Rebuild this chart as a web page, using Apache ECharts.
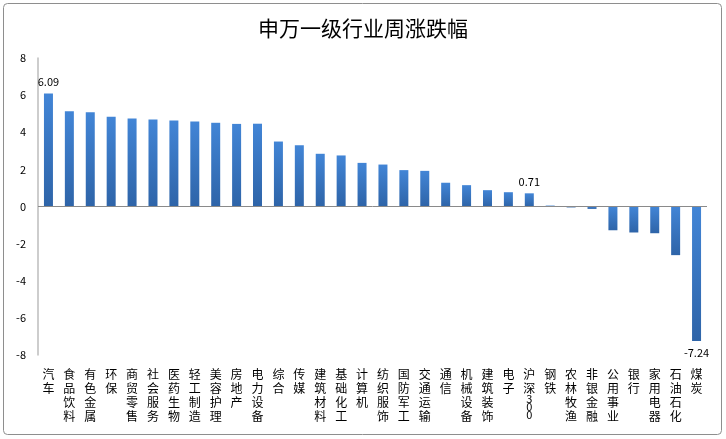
<!DOCTYPE html>
<html>
<head>
<meta charset="utf-8">
<script src="https://cdn.jsdelivr.net/npm/echarts@6/dist/echarts.min.js"></script>
<style>
html,body{margin:0;padding:0;background:#fff;}
#c{width:726px;height:439px;}
</style>
</head>
<body>
<div id="c"></div>
<script>
var categories = ['汽车','食品饮料','有色金属','环保','商贸零售','社会服务','医药生物','轻工制造','美容护理','房地产','电力设备','综合','传媒','建筑材料','基础化工','计算机','纺织服饰','国防军工','交通运输','通信','机械设备','建筑装饰','电子','沪深300','钢铁','农林牧渔','非银金融','公用事业','银行','家用电器','石油石化','煤炭'];
var values = [6.09,5.13,5.08,4.83,4.74,4.69,4.63,4.58,4.51,4.45,4.46,3.50,3.30,2.84,2.75,2.35,2.26,1.96,1.92,1.28,1.15,0.88,0.77,0.71,0.05,-0.05,-0.13,-1.28,-1.40,-1.44,-2.62,-7.24];
var labeledIdx = [0, 23, 31];
var yTicks = [-8,-6,-4,-2,0,2,4,6,8];

var chart = echarts.init(document.getElementById('c'), null, {renderer:'canvas'});
var font = '"Noto Sans CJK SC", "Microsoft YaHei", sans-serif';

function vertLabel(s){
  var m = s.match(/^(\D*)(\d+)$/);
  if(m){
    var parts = m[1].split('');
    var digits = m[2].split('').map(function(d){return '{d|'+d+'}';});
    return parts.join('\n') + '\n' + digits.join('\n');
  }
  return s.split('').join('\n');
}

var data = values.map(function(v,i){
  var item = {value:v};
  if(labeledIdx.indexOf(i) >= 0){
    item.label = {show:true, position: v>=0 ? 'top':'bottom', formatter: function(p){return p.value.toFixed(2);}, color:'#000', fontSize:11, fontFamily:font, distance:6};
  }
  return item;
});

chart.setOption({
  animation:false,
  textStyle:{fontFamily:font},
  title:{text:'申万一级行业周涨跌幅', left:'center', top:13, textStyle:{fontSize:21, fontWeight:'normal', color:'#000', fontFamily:font}},
  graphic:[{type:'rect', shape:{x:3.5,y:3.5,width:718,height:431,r:4}, style:{fill:'none', stroke:'#8e8e8e', lineWidth:1}, silent:true, z:-1}],
  grid:{left:38, right:19, top:58, bottom:84},
  xAxis:{
    type:'category', data:categories,
    axisLine:{show:false}, axisTick:{show:false},
    axisLabel:{interval:0, color:'#000', fontSize:12, lineHeight:14, margin:12, verticalAlign:'top', fontFamily:font,
      formatter:function(v){return vertLabel(v);},
      rich:{d:{fontSize:11, lineHeight:8, color:'#000', fontFamily:font}}}
  },
  yAxis:{
    type:'value', min:-8, max:8, interval:2,
    axisLine:{show:true, lineStyle:{color:'#bdbdbd', width:1.5}},
    axisTick:{show:false}, splitLine:{show:false},
    axisLabel:{color:'#000', fontSize:11, margin:12, fontFamily:font,
      formatter:function(v){return yTicks.indexOf(v)>=0 ? String(v) : '';}}
  },
  series:[{
    type:'bar', data:data, barWidth:9,
    itemStyle:{color:new echarts.graphic.LinearGradient(0,0,0,1,[{offset:0,color:'#4285d6'},{offset:1,color:'#2e64a8'}])},
    markLine:{silent:true, symbol:'none', label:{show:false}, lineStyle:{color:'#8a8a8a', width:1, type:'solid'}, data:[{yAxis:0}]}
  }]
});
</script>
</body>
</html>
